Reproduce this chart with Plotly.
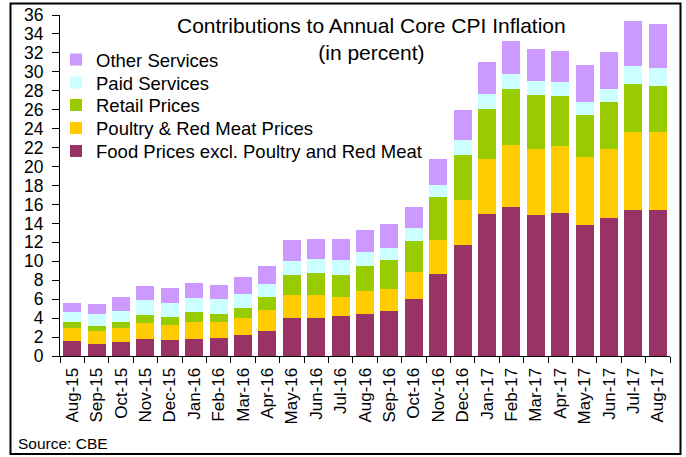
import plotly.graph_objects as go

months = ["Aug-15", "Sep-15", "Oct-15", "Nov-15", "Dec-15", "Jan-16", "Feb-16", "Mar-16",
          "Apr-16", "May-16", "Jun-16", "Jul-16", "Aug-16", "Sep-16", "Oct-16", "Nov-16",
          "Dec-16", "Jan-17", "Feb-17", "Mar-17", "Apr-17", "May-17", "Jun-17", "Jul-17", "Aug-17"]

food = [1.59, 1.27, 1.52, 1.80, 1.73, 1.80, 1.90, 2.22, 2.68, 4.06, 3.99, 4.27, 4.48, 4.80,
        6.07, 8.70, 11.68, 15.00, 15.71, 14.93, 15.07, 13.84, 14.61, 15.46, 15.39]
poultry = [1.41, 1.33, 1.45, 1.73, 1.55, 1.76, 1.66, 1.78, 2.19, 2.40, 2.40, 1.91, 2.40, 2.30,
           2.83, 3.50, 4.84, 5.79, 6.56, 6.92, 7.10, 7.16, 7.20, 8.23, 8.30]
retail = [0.60, 0.60, 0.63, 0.85, 0.89, 1.06, 0.89, 1.08, 1.38, 2.08, 2.36, 2.36, 2.58, 3.00,
          3.28, 4.56, 4.69, 5.33, 5.93, 5.68, 5.26, 4.45, 4.98, 5.01, 4.80]
paid = [1.00, 1.20, 1.17, 1.48, 1.43, 1.48, 1.52, 1.49, 1.35, 1.46, 1.45, 1.63, 1.52, 1.27,
        1.34, 1.27, 1.56, 1.52, 1.56, 1.49, 1.48, 1.34, 1.38, 1.90, 1.90]
other = [0.98, 1.10, 1.48, 1.54, 1.57, 1.60, 1.48, 1.80, 1.93, 2.25, 2.19, 2.15, 2.29, 2.57,
         2.22, 2.72, 3.17, 3.35, 3.46, 3.35, 3.28, 3.88, 3.92, 4.77, 4.63]

series = [
    ("Food Prices excl. Poultry and Red Meat", food, "#993366"),
    ("Poultry & Red Meat Prices", poultry, "#FFCC00"),
    ("Retail Prices", retail, "#99CC00"),
    ("Paid Services", paid, "#CCFFFF"),
    ("Other Services", other, "#CC99FF"),
]

FONT = "Arial, Liberation Sans, sans-serif"

W, H = 686, 457
L, R, T, B = 60, 16, 15, 101
pw = W - L - R
ph = H - T - B


def px(x):
    return (x - L) / pw


def py(y):
    return (H - B - y) / ph


# legend row centres (pixels from top), bottom series first
legend_rows = [151.5, 128.5, 105.5, 83.0, 60.0]
legend_names = ["legend", "legend2", "legend3", "legend4", "legend5"]

fig = go.Figure()
for (name, vals, col), lg in zip(series, legend_names):
    fig.add_trace(go.Bar(x=months, y=vals, name=name, legend=lg,
                         marker=dict(color=col, line=dict(width=0))))

layout_legends = {}
for lg, yc in zip(legend_names, legend_rows):
    layout_legends[lg] = dict(x=px(56), y=py(yc), xanchor="left", yanchor="middle",
                              font=dict(size=18.5, family=FONT), bgcolor="rgba(0,0,0,0)",
                              borderwidth=0, itemclick=False, itemdoubleclick=False)

fig.update_layout(
    width=W, height=H,
    margin=dict(l=L, r=R, t=T, b=B, pad=0, autoexpand=False),
    barmode="stack", bargap=0.26,
    plot_bgcolor="white", paper_bgcolor="white",
    font=dict(family=FONT, color="black", size=17),
    showlegend=True,
    xaxis=dict(type="category", showline=True, linecolor="black", linewidth=1,
               ticks="outside", ticklen=6, tickcolor="black", tickson="boundaries",
               tickangle=-90, tickfont=dict(size=17, family=FONT), showgrid=False,
               ticklabelstandoff=4),
    yaxis=dict(range=[0, 36], dtick=2, showline=True, linecolor="black", linewidth=1,
               ticks="outside", ticklen=7, tickcolor="black", showgrid=False,
               zeroline=False, tickfont=dict(size=17.5, family=FONT), ticklabelstandoff=5),
    shapes=[dict(type="rect", xref="paper", yref="paper",
                 x0=px(10.5), x1=px(680.5), y0=py(454), y1=py(3.5),
                 line=dict(color="black", width=2), fillcolor="rgba(0,0,0,0)", layer="above")],
    annotations=[
        dict(text="Contributions to Annual Core CPI Inflation<br>(in percent)",
             xref="paper", yref="paper", x=px(371), y=py(39), xanchor="center",
             yanchor="middle", showarrow=False, font=dict(size=21, family=FONT)),
        dict(text="Source: CBE", xref="paper", yref="paper", x=px(16), y=py(443),
             xanchor="left", yanchor="middle", showarrow=False, font=dict(size=15.5, family=FONT)),
    ],
    **layout_legends,
)

fig.write_html("out.html", config={"displayModeBar": False},
               post_script="document.body.style.margin='0';")
